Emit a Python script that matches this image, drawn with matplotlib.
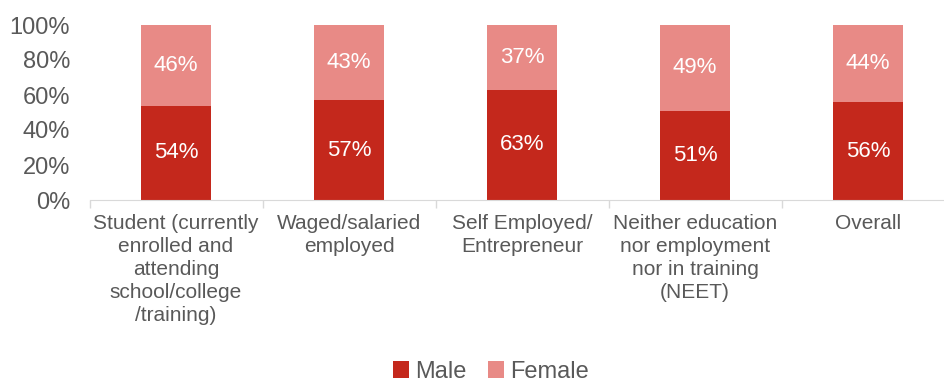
import matplotlib
matplotlib.use("Agg")
import matplotlib.pyplot as plt
import numpy as np

categories = ["Student (currently\nenrolled and\nattending\nschool/college\n/training)",
              "Waged/salaried\nemployed",
              "Self Employed/\nEntrepreneur",
              "Neither education\nnor employment\nnor in training\n(NEET)",
              "Overall"]
male = [54, 57, 63, 51, 56]
female = [46, 43, 37, 49, 44]
yticks = [0, 20, 40, 60, 80, 100]

male_col = "#C4281C"
female_col = "#E88A86"
txt_col = "#595959"

plt.rcParams['font.family'] = ['Liberation Sans', 'DejaVu Sans']

fig = plt.figure(figsize=(9.44, 3.83), dpi=100)
# axes extends slightly past the right edge
ax = fig.add_axes([89.5 / 944, 1 - 200 / 383, 865 / 944, 175 / 383])

x = np.arange(len(categories))
w = 0.4
ax.bar(x, male, w, color=male_col, label="Male")
ax.bar(x, female, w, bottom=male, color=female_col, label="Female")

for i in range(len(x)):
    ax.text(x[i], male[i] / 2, f"{male[i]}%", ha="center", va="center",
            color="white", fontsize=16)
    ax.text(x[i], male[i] + female[i] / 2, f"{female[i]}%", ha="center",
            va="center", color="white", fontsize=16)

ax.set_xlim(-0.5, len(x) - 0.5)
ax.set_ylim(0, 100)
ax.set_yticks(yticks)
ax.set_yticklabels([f"{t}%" for t in yticks], fontsize=17, color=txt_col)
ax.tick_params(axis="y", length=0, pad=14)

ax.set_xticks(x)
ax.set_xticklabels(categories, fontsize=15, color=txt_col, linespacing=1.27)
ax.tick_params(axis="x", length=0, pad=10)
# separator ticks between categories
ax.set_xticks(np.arange(len(x) + 1) - 0.5, minor=True)
ax.tick_params(axis="x", which="minor", length=6, color="#D9D9D9", width=1)

for s in ["top", "right", "left"]:
    ax.spines[s].set_visible(False)
ax.spines["bottom"].set_color("#D9D9D9")

fig.legend(loc="center", bbox_to_anchor=(491 / 944, 1 - 372 / 383), ncol=2,
           frameon=False, fontsize=17, labelcolor=txt_col, handlelength=0.7,
           handleheight=0.7, handletextpad=0.25, columnspacing=0.9)

fig.savefig("out.png", dpi=100)
